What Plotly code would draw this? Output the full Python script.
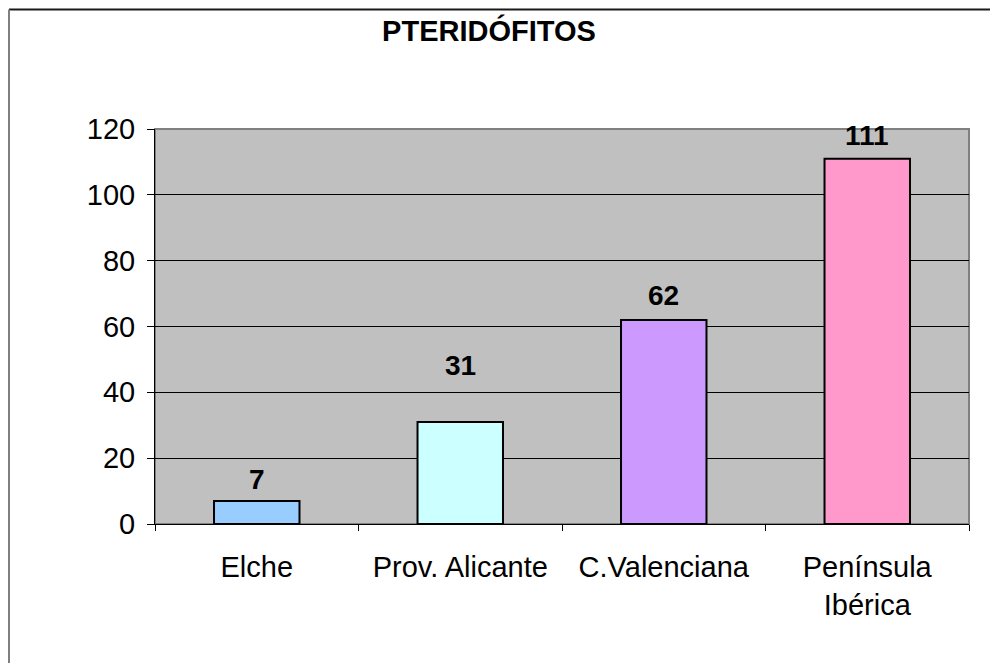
import plotly.graph_objects as go

categories = ["Elche", "Prov. Alicante", "C.Valenciana", "Península<br>Ibérica"]
values = [7, 31, 62, 111]
bar_colors = ["#99CCFF", "#CCFFFF", "#CC99FF", "#FF99CC"]
title_text = "PTERIDÓFITOS"
y_ticks = [0, 20, 40, 60, 80, 100, 120]

# label offsets (pixels above bar top) -- style only
label_shift = [21, 56, 24, 23]

FONT = "Liberation Sans, Arial, sans-serif"
OFF = 8  # page body offset
W, H = 998, 663
# plot area in page pixels: x 155..969, y 129..524
ML, MR, MT, MB = 155 - OFF, W - (969 - OFF), 129 - OFF, H - (524 - OFF)
PW, PH = W - ML - MR, H - MT - MB

def px_to_paper_x(x):
    return (x - OFF - ML) / PW

def px_to_paper_y(y):
    return (H - MB - (y - OFF)) / PH

fig = go.Figure()
fig.add_trace(go.Bar(
    x=categories, y=values,
    marker=dict(color=bar_colors, line=dict(color="black", width=2)),
    width=0.42,
    hoverinfo="x+y",
))

for c, v, s in zip(categories, values, label_shift):
    fig.add_annotation(x=c, y=v, text=f"<b>{v}</b>", showarrow=False,
                       yanchor="middle", yshift=s,
                       font=dict(family=FONT, size=28, color="black"))

# plot area border (gray)
fig.add_shape(type="rect", xref="paper", yref="paper", x0=0, y0=0, x1=1, y1=1,
              line=dict(color="#808080", width=2), layer="below")
# outer chart border: top and left
fig.add_shape(type="line", xref="paper", yref="paper",
              x0=px_to_paper_x(9), x1=px_to_paper_x(1010),
              y0=px_to_paper_y(9.5), y1=px_to_paper_y(9.5),
              line=dict(color="#1a1a1a", width=2))
fig.add_shape(type="line", xref="paper", yref="paper",
              x0=px_to_paper_x(9), x1=px_to_paper_x(9),
              y0=px_to_paper_y(9.5), y1=px_to_paper_y(700),
              line=dict(color="#7f7f7f", width=2))

fig.update_layout(
    width=W, height=H,
    margin=dict(l=ML, r=MR, t=MT, b=MB),
    paper_bgcolor="white", plot_bgcolor="#C0C0C0",
    showlegend=False,
    font=dict(family=FONT, size=29, color="black"),
    title=dict(text=f"<b>{title_text}</b>", x=(489 - OFF) / W, xanchor="center",
               y=1 - (31 - OFF) / H, yanchor="middle", xref="container", yref="container",
               font=dict(family=FONT, size=29, color="black")),
    xaxis=dict(showline=True, linecolor="black", linewidth=1,
               ticks="outside", tickson="boundaries", ticklen=6, tickcolor="black",
               showgrid=False, ticklabelstandoff=17,
               tickfont=dict(family=FONT, size=29, color="black")),
    yaxis=dict(range=[0, 120], tickvals=y_ticks, showline=True, linecolor="black",
               linewidth=1, ticks="outside", ticklen=7, tickcolor="black",
               showgrid=True, gridcolor="black", gridwidth=1, zeroline=False,
               ticklabelstandoff=6,
               tickfont=dict(family=FONT, size=29, color="black")),
)

fig.write_html("out.html")
